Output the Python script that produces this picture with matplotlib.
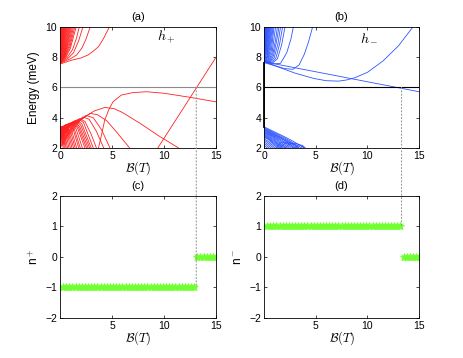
import matplotlib
matplotlib.use('Agg')
import matplotlib.pyplot as plt
from matplotlib.patches import ConnectionPatch
import numpy as np

plt.rcParams['font.family'] = ['Liberation Sans', 'DejaVu Sans']
plt.rcParams['mathtext.fontset'] = 'cm'
plt.rcParams['font.size'] = 7.5

# ---- panel (a): h+ levels (B [T], E [meV])
a_superior = [
    [(0, 7.55), (1.1, 7.8), (2.0, 7.95), (2.7, 8.15), (3.2, 8.4), (3.7, 8.7), (4.2, 9.25), (4.74, 10)],
    [(0, 7.6), (1.0, 7.9), (1.6, 8.15), (2.1, 8.6), (2.5, 9.2), (2.9, 10)],
    [(0, 7.6), (0.8, 7.95), (1.3, 8.3), (1.8, 9.1), (2.2, 10)],
    [(0, 7.62), (0.7, 8.0), (1.2, 8.5), (1.6, 9.3), (1.85, 10)],
    [(0, 7.63), (0.6, 8.05), (1.0, 8.6), (1.55, 10)],
    [(0, 7.64), (0.55, 8.07), (0.95, 8.7), (1.42, 10)],
    [(0, 7.65), (0.5, 8.1), (0.9, 8.8), (1.3, 10)],
    [(0, 7.66), (0.48, 8.12), (0.85, 8.9), (1.2, 10)],
    [(0, 7.66), (0.45, 8.15), (0.8, 9.0), (1.1, 10)],
    [(0, 7.67), (0.42, 8.18), (0.75, 9.05), (1.02, 10)],
    [(0, 7.68), (0.4, 8.2), (0.7, 9.1), (0.95, 10)],
    [(0, 7.69), (0.38, 8.25), (0.65, 9.15), (0.87, 10)],
    [(0, 7.7), (0.35, 8.3), (0.6, 9.2), (0.8, 10)],
    [(0, 7.71), (0.32, 8.35), (0.55, 9.25), (0.74, 10)],
    [(0, 7.72), (0.3, 8.4), (0.5, 9.3), (0.68, 10)],
    [(0, 7.73), (0.28, 8.45), (0.46, 9.35), (0.62, 10)],
    [(0, 7.74), (0.25, 8.5), (0.42, 9.4), (0.57, 10)],
    [(0, 7.75), (0.22, 8.55), (0.38, 9.45), (0.52, 10)],
    [(0, 7.76), (0.2, 8.6), (0.35, 9.5), (0.47, 10)],
    [(0, 7.77), (0.19, 8.7), (0.42, 10)],
    [(0, 7.78), (0.18, 8.8), (0.38, 10)],
    [(0, 7.79), (0.16, 8.85), (0.34, 10)],
    [(0, 7.8), (0.14, 8.9), (0.3, 10)],
    [(0, 7.82), (0.12, 8.95), (0.26, 10)],
    [(0, 7.85), (0.1, 9.0), (0.22, 10)],
    [(0, 7.87), (0.08, 9.1), (0.18, 10)],
    [(0, 7.9), (0.07, 9.2), (0.15, 10)],
    [(0, 7.95), (0.05, 9.25), (0.12, 10)],
    [(0, 8.0), (0.04, 9.3), (0.09, 10)],
    [(0, 8.1), (0.03, 9.4), (0.06, 10)],
]
a_inferior = [
    [(0, 2.0), (2.0, 3.9), (3.3, 4.45), (4.3, 4.68), (5.2, 4.6), (6.0, 4.35), (7.7, 3.63), (9.5, 2.8), (11.4, 2.0)],
    [(0, 2.1), (1.5, 3.6), (2.9, 4.29), (3.6, 4.2), (4.5, 3.8), (5.5, 3.0), (6.7, 2.0)],
    [(0, 2.2), (1.3, 3.5), (2.5, 4.15), (3.2, 4.0), (4.0, 3.2), (4.8, 2.0)],
    [(0, 2.3), (1.2, 3.5), (2.2, 4.05), (2.8, 3.9), (3.5, 3.1), (4.2, 2.0)],
    [(0, 2.4), (1.0, 3.45), (1.9, 3.95), (2.4, 3.75), (3.0, 2.9), (3.5, 2.0)],
    [(0, 2.45), (0.95, 3.45), (1.75, 3.9), (2.25, 3.7), (3.2, 2.0)],
    [(0, 2.5), (0.9, 3.45), (1.6, 3.85), (2.1, 3.6), (3.0, 2.0)],
    [(0, 2.55), (0.85, 3.45), (1.5, 3.82), (2.0, 3.5), (2.85, 2.0)],
    [(0, 2.6), (0.8, 3.45), (1.4, 3.8), (1.9, 3.4), (2.7, 2.0)],
    [(0, 2.65), (0.75, 3.45), (1.3, 3.76), (1.8, 3.35), (2.55, 2.0)],
    [(0, 2.7), (0.7, 3.45), (1.2, 3.72), (1.7, 3.3), (2.4, 2.0)],
    [(0, 2.75), (0.65, 3.47), (1.1, 3.69), (1.55, 3.25), (2.15, 2.0)],
    [(0, 2.8), (0.6, 3.5), (1.0, 3.66), (1.4, 3.2), (1.95, 2.0)],
    [(0, 2.85), (0.55, 3.5), (0.9, 3.63), (1.3, 3.15), (1.8, 2.0)],
    [(0, 2.9), (0.5, 3.5), (0.8, 3.6), (1.15, 3.1), (1.6, 2.0)],
    [(0, 2.95), (0.55, 3.55), (1.05, 3.0), (1.45, 2.0)],
    [(0, 3.0), (0.6, 3.55), (0.95, 2.9), (1.3, 2.0)],
    [(0, 3.05), (0.5, 3.52), (0.85, 2.85), (1.15, 2.0)],
    [(0, 3.1), (0.45, 3.5), (0.75, 2.8), (1.0, 2.0)],
    [(0, 3.15), (0.38, 3.48), (0.65, 2.7), (0.86, 2.0)],
    [(0, 3.2), (0.3, 3.45), (0.55, 2.6), (0.72, 2.0)],
    [(0, 3.25), (0.25, 3.44), (0.46, 2.55), (0.6, 2.0)],
    [(0, 3.3), (0.2, 3.42), (0.38, 2.5), (0.5, 2.0)],
    [(0, 3.35), (0.15, 3.41), (0.3, 2.5), (0.4, 2.0)],
    [(0, 3.4), (0.1, 3.4), (0.22, 2.5), (0.3, 2.0)],
    [(3.7, 2.0), (4.0, 2.9), (4.3, 3.85), (4.7, 4.55), (5.1, 5.06), (5.9, 5.5), (7.0, 5.66),
     (8.3, 5.72), (10.0, 5.62), (12.5, 5.35), (15.0, 5.05)],
    [(9.4, 2.0), (15.0, 8.0)],
]

# ---- panel (b): h- levels
b_superior = [
    [(0, 7.7), (15, 5.72)],
    [(0, 7.65), (1.0, 7.45), (2.0, 7.2), (3.0, 6.95), (4.8, 6.6), (6.0, 6.45), (7.2, 6.42), (8.0, 6.5),
     (8.8, 6.65), (10.0, 7.0), (11.5, 7.75), (13.0, 8.75), (14.4, 10)],
    [(0, 7.7), (1.0, 7.45), (2.0, 7.25), (2.8, 7.2), (3.4, 7.5), (3.9, 8.2), (4.3, 9.0), (4.7, 10)],
    [(0, 7.7), (0.8, 7.55), (1.6, 7.6), (2.2, 8.3), (2.6, 9.2), (2.84, 10)],
    [(0, 7.72), (0.8, 7.6), (1.3, 7.9), (1.7, 8.8), (2.03, 10)],
    [(0, 7.73), (0.7, 7.62), (1.15, 7.95), (1.5, 8.85), (1.8, 10)],
    [(0, 7.74), (0.6, 7.65), (1.0, 8.0), (1.35, 8.9), (1.6, 10)],
    [(0, 7.75), (0.55, 7.68), (0.92, 8.1), (1.2, 9.0), (1.45, 10)],
    [(0, 7.76), (0.5, 7.7), (0.85, 8.2), (1.1, 9.1), (1.3, 10)],
    [(0, 7.77), (0.45, 7.75), (0.78, 8.3), (1.12, 10)],
    [(0, 7.78), (0.4, 7.8), (0.7, 8.4), (0.97, 10)],
    [(0, 7.79), (0.38, 7.88), (0.62, 8.5), (0.88, 10)],
    [(0, 7.8), (0.35, 7.95), (0.55, 8.6), (0.8, 10)],
    [(0, 7.82), (0.32, 8.02), (0.5, 8.7), (0.72, 10)],
    [(0, 7.85), (0.3, 8.1), (0.45, 8.8), (0.65, 10)],
    [(0, 7.87), (0.27, 8.2), (0.41, 8.9), (0.58, 10)],
    [(0, 7.9), (0.25, 8.3), (0.38, 9.0), (0.52, 10)],
    [(0, 7.92), (0.22, 8.4), (0.47, 10)],
    [(0, 7.95), (0.2, 8.5), (0.42, 10)],
    [(0, 7.97), (0.17, 8.6), (0.37, 10)],
    [(0, 8.0), (0.15, 8.7), (0.33, 10)],
    [(0, 8.05), (0.13, 8.8), (0.29, 10)],
    [(0, 8.1), (0.12, 8.9), (0.25, 10)],
    [(0, 8.15), (0.1, 9.0), (0.21, 10)],
    [(0, 8.2), (0.08, 9.1), (0.17, 10)],
    [(0, 8.3), (0.06, 9.2), (0.13, 10)],
    [(0, 8.4), (0.05, 9.3), (0.1, 10)],
    [(0, 8.6), (0.03, 9.4), (0.07, 10)],
]
b_inferior = [
    [(0, 3.4), (1.0, 3.07), (2.0, 2.74), (2.8, 2.45), (3.3, 2.25), (3.9, 2.0)],
    [(0, 3.35), (1.0, 3.01), (1.9, 2.7), (2.6, 2.43), (3.1, 2.22), (3.65, 2.0)],
    [(0, 3.3), (1.0, 2.95), (1.8, 2.66), (2.5, 2.4), (3.0, 2.2), (3.4, 2.0)],
    [(0, 3.25), (0.95, 2.92), (1.7, 2.65), (2.35, 2.4), (2.8, 2.2), (3.2, 2.0)],
    [(0, 3.2), (0.9, 2.9), (1.6, 2.65), (2.2, 2.4), (2.6, 2.2), (3.0, 2.0)],
    [(0, 3.15), (0.85, 2.87), (1.5, 2.62), (2.05, 2.37), (2.8, 2.0)],
    [(0, 3.1), (0.8, 2.85), (1.4, 2.6), (1.9, 2.35), (2.6, 2.0)],
    [(0, 3.05), (0.75, 2.82), (1.3, 2.57), (1.75, 2.32), (2.4, 2.0)],
    [(0, 3.0), (0.7, 2.8), (1.2, 2.55), (1.6, 2.3), (2.2, 2.0)],
    [(0, 2.95), (0.65, 2.75), (1.1, 2.52), (1.5, 2.27), (2.05, 2.0)],
    [(0, 2.9), (0.6, 2.7), (1.0, 2.5), (1.4, 2.25), (1.9, 2.0)],
    [(0, 2.85), (0.55, 2.66), (0.95, 2.45), (1.75, 2.0)],
    [(0, 2.8), (0.5, 2.62), (0.9, 2.4), (1.6, 2.0)],
    [(0, 2.75), (0.47, 2.58), (0.85, 2.35), (1.45, 2.0)],
    [(0, 2.7), (0.45, 2.55), (0.8, 2.3), (1.3, 2.0)],
    [(0, 2.6), (0.4, 2.45), (0.7, 2.25), (1.1, 2.0)],
    [(0, 2.5), (0.3, 2.4), (0.6, 2.2), (0.9, 2.0)],
    [(0, 2.4), (0.25, 2.3), (0.7, 2.0)],
    [(0, 2.3), (0.2, 2.2), (0.5, 2.0)],
    [(0, 2.2), (0.3, 2.0)],
    [(2.0, 2.0), (2.5, 2.28), (3.0, 2.32), (3.5, 2.2), (3.9, 2.0)],
    [(1.5, 2.0), (2.0, 2.3), (2.5, 2.35), (3.0, 2.2), (3.3, 2.0)],
    [(1.2, 2.0), (1.6, 2.35), (2.1, 2.4), (2.6, 2.2), (2.9, 2.0)],
    [(3.0, 2.0), (3.3, 2.2), (3.7, 2.18), (4.0, 2.0)],
]

# ---- panels (c), (d): topological numbers on a B grid
B_grid = np.arange(0.3, 15.01, 0.3)
cruce_mas, cruce_menos = 13.1, 13.3     # crossing fields (dotted lines)
n_mas_antes, n_mas_despues = -1, 0
n_menos_antes, n_menos_despues = 1, 0
fermi = 6.0

rojo = '#ff2020'
azul = '#2f55ff'
verde = '#70ff30'

fig = plt.figure(figsize=(4.63, 3.58), dpi=100)
ax_a = fig.add_axes([0.1296, 0.5866, 0.337, 0.338])
ax_b = fig.add_axes([0.5702, 0.5866, 0.335, 0.338])
ax_c = fig.add_axes([0.1296, 0.1117, 0.337, 0.341])
ax_d = fig.add_axes([0.5702, 0.1117, 0.335, 0.341])


def estilo(ax):
    ax.tick_params(direction='in', length=2.5, width=0.5, top=True, right=True, pad=2, labelsize=7.5)
    for s in ax.spines.values():
        s.set_linewidth(0.6)


def dibujar(ax, curvas, color):
    for c in curvas:
        c = np.array(c)
        ax.plot(c[:, 0], c[:, 1], color=color, lw=0.6)


dibujar(ax_a, a_superior, rojo)
dibujar(ax_a, a_inferior, rojo)
ax_a.axhline(fermi, color='0.55', lw=0.8)
ax_a.text(9.3, 9.1, '$h_+$', fontsize=10)

dibujar(ax_b, b_superior, azul)
dibujar(ax_b, b_inferior, azul)
ax_b.axhline(fermi, color='k', lw=0.8)
ax_b.plot([0, 0], [3.4, 7.6], color='k', lw=1.3, clip_on=False)
ax_b.text(9.3, 9.1, '$h_-$', fontsize=10)

for ax, t in [(ax_a, '(a)'), (ax_b, '(b)')]:
    ax.set_xlim(0, 15)
    ax.set_ylim(2, 10)
    ax.set_xticks([0, 5, 10, 15])
    ax.set_yticks([2, 4, 6, 8, 10])
    ax.set_title(t, fontsize=8, pad=5)
    ax.set_xlabel(r'$\mathcal{B}(T)$', fontsize=9, labelpad=-1)
    estilo(ax)
ax_a.set_ylabel('Energy (meV)', fontsize=8.5, labelpad=4)

n_mas = np.where(B_grid < cruce_mas, n_mas_antes, n_mas_despues)
n_menos = np.where(B_grid < cruce_menos, n_menos_antes, n_menos_despues)
for ax, n, t, lab in [(ax_c, n_mas, '(c)', 'n$^+$'), (ax_d, n_menos, '(d)', 'n$^-$')]:
    ax.plot(B_grid, n, ls='none', marker='*', ms=6, color=verde, mew=0.6)
    ax.plot(B_grid, n, ls='none', marker='x', ms=4, color=verde, mew=0.6)
    ax.set_xlim(0, 15)
    ax.set_ylim(-2, 2)
    ax.set_xticks([5, 10, 15])
    ax.set_yticks([-2, -1, 0, 1, 2])
    ax.set_title(t, fontsize=8, pad=5)
    ax.set_xlabel(r'$\mathcal{B}(T)$', fontsize=9, labelpad=-1)
    ax.set_ylabel(lab, fontsize=8.5, labelpad=3)
    estilo(ax)

# dotted lines linking the Fermi crossing with the jump
for ax1, ax2, bx, ny in [(ax_a, ax_c, cruce_mas, n_mas_antes), (ax_b, ax_d, cruce_menos, n_menos_antes)]:
    con = ConnectionPatch(xyA=(bx, fermi), coordsA=ax1.transData, xyB=(bx, ny), coordsB=ax2.transData,
                          color='0.6', lw=0.8, linestyle=(0, (1, 2)))
    fig.add_artist(con)

fig.savefig('out.png', dpi=100)
